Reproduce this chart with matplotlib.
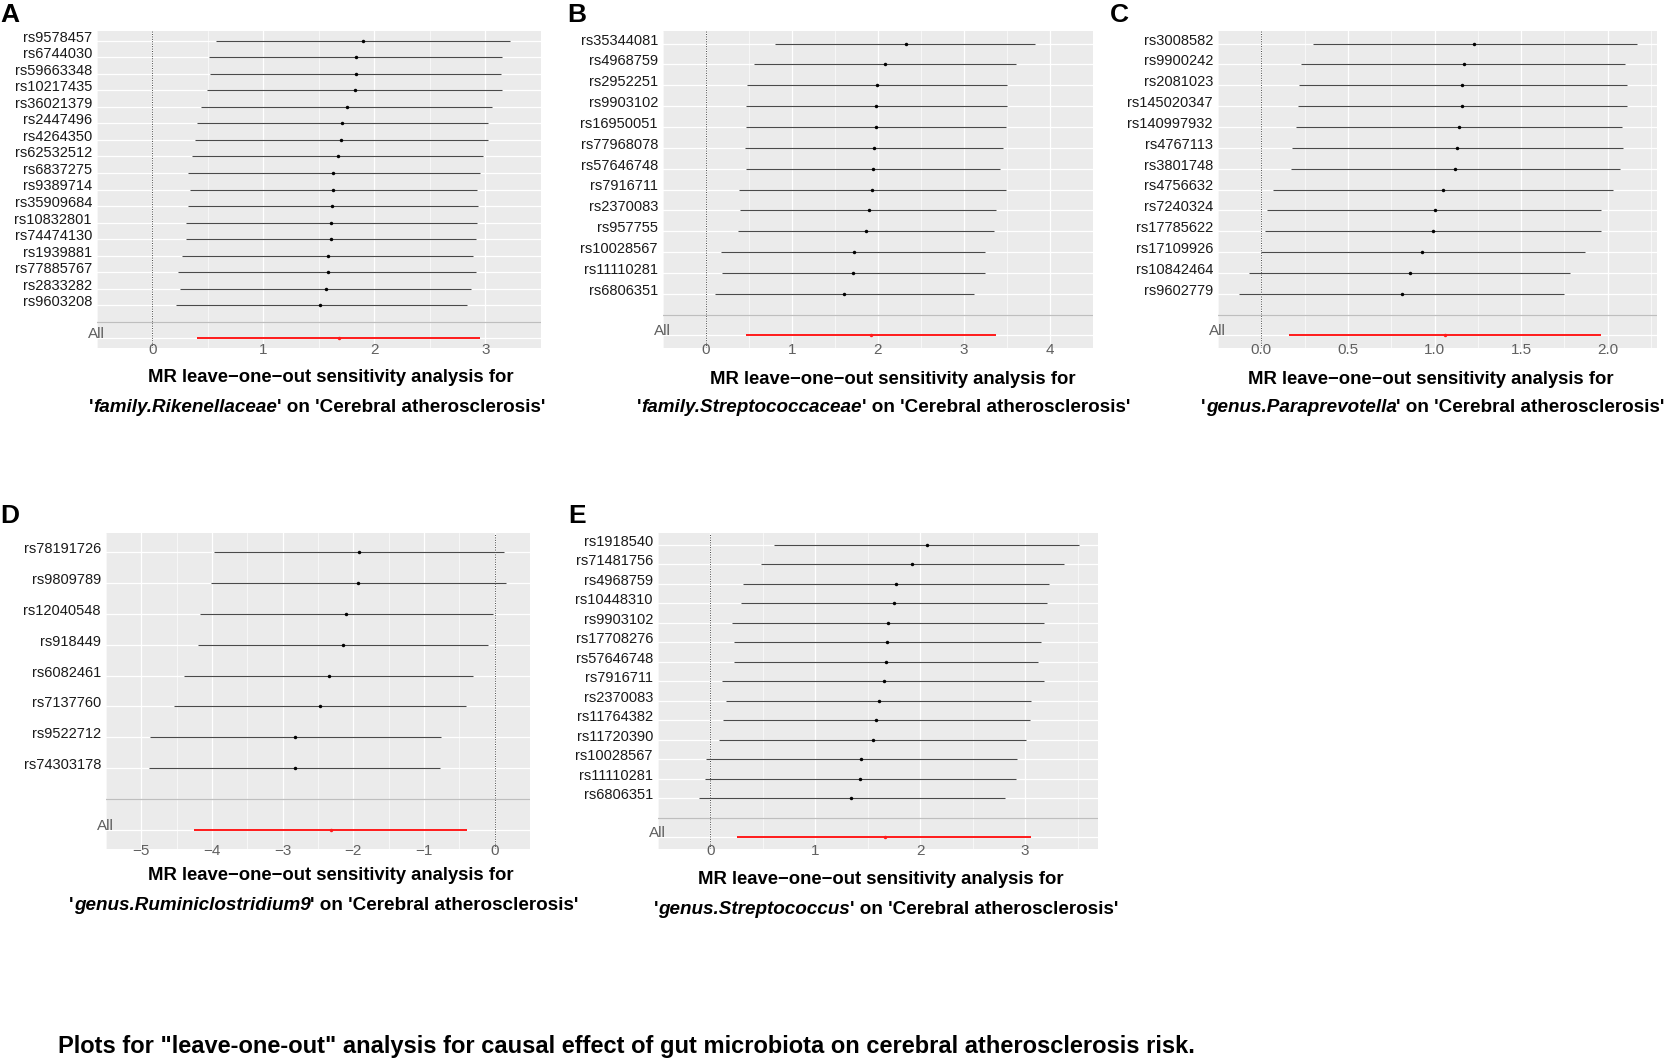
import matplotlib
matplotlib.use("Agg")
import matplotlib.pyplot as plt
from matplotlib import transforms as mtrans

# ---- data ----
a_snps = ["rs9578457", "rs6744030", "rs59663348", "rs10217435", "rs36021379", "rs2447496",
          "rs4264350", "rs62532512", "rs6837275", "rs9389714", "rs35909684", "rs10832801",
          "rs74474130", "rs1939881", "rs77885767", "rs2833282", "rs9603208"]
a_b = [1.90, 1.83, 1.83, 1.82, 1.75, 1.71, 1.70, 1.67, 1.63, 1.63, 1.62, 1.61, 1.61, 1.58, 1.58, 1.56, 1.51]
a_lo = [0.57, 0.51, 0.52, 0.49, 0.44, 0.40, 0.38, 0.36, 0.32, 0.34, 0.32, 0.30, 0.30, 0.27, 0.23, 0.25, 0.21]
a_hi = [3.22, 3.15, 3.14, 3.15, 3.06, 3.02, 3.02, 2.98, 2.95, 2.92, 2.93, 2.92, 2.91, 2.89, 2.91, 2.87, 2.83]
a_all = (0.40, 1.68, 2.95)

b_snps = ["rs35344081", "rs4968759", "rs2952251", "rs9903102", "rs16950051", "rs77968078",
          "rs57646748", "rs7916711", "rs2370083", "rs957755", "rs10028567", "rs11110281", "rs6806351"]
b_b = [2.32, 2.08, 1.99, 1.98, 1.98, 1.95, 1.94, 1.93, 1.89, 1.86, 1.72, 1.71, 1.61]
b_lo = [0.80, 0.56, 0.48, 0.46, 0.46, 0.45, 0.46, 0.38, 0.40, 0.37, 0.18, 0.19, 0.11]
b_hi = [3.83, 3.60, 3.50, 3.50, 3.49, 3.45, 3.42, 3.49, 3.37, 3.35, 3.25, 3.24, 3.12]
b_all = (0.46, 1.92, 3.37)

c_snps = ["rs3008582", "rs9900242", "rs2081023", "rs145020347", "rs140997932", "rs4767113",
          "rs3801748", "rs4756632", "rs7240324", "rs17785622", "rs17109926", "rs10842464", "rs9602779"]
c_b = [1.23, 1.17, 1.16, 1.16, 1.14, 1.13, 1.12, 1.05, 1.00, 0.99, 0.93, 0.86, 0.81]
c_lo = [0.30, 0.23, 0.22, 0.21, 0.20, 0.18, 0.17, 0.07, 0.03, 0.02, 0.00, -0.07, -0.13]
c_hi = [2.17, 2.10, 2.11, 2.11, 2.08, 2.09, 2.07, 2.03, 1.96, 1.96, 1.87, 1.78, 1.75]
c_all = (0.16, 1.06, 1.96)

d_snps = ["rs78191726", "rs9809789", "rs12040548", "rs918449", "rs6082461", "rs7137760",
          "rs9522712", "rs74303178"]
d_b = [-1.92, -1.93, -2.10, -2.15, -2.34, -2.47, -2.82, -2.83]
d_lo = [-3.97, -4.02, -4.17, -4.20, -4.39, -4.54, -4.88, -4.89]
d_hi = [0.135, 0.165, -0.03, -0.10, -0.30, -0.41, -0.76, -0.78]
d_all = (-4.25, -2.32, -0.39)

e_snps = ["rs1918540", "rs71481756", "rs4968759", "rs10448310", "rs9903102", "rs17708276",
          "rs57646748", "rs7916711", "rs2370083", "rs11764382", "rs11720390", "rs10028567",
          "rs11110281", "rs6806351"]
e_b = [2.06, 1.92, 1.77, 1.75, 1.69, 1.68, 1.67, 1.65, 1.61, 1.58, 1.55, 1.44, 1.43, 1.34]
e_lo = [0.61, 0.48, 0.31, 0.29, 0.21, 0.22, 0.22, 0.11, 0.15, 0.12, 0.08, -0.04, -0.05, -0.11]
e_hi = [3.51, 3.37, 3.23, 3.21, 3.18, 3.15, 3.12, 3.18, 3.06, 3.05, 3.01, 2.92, 2.91, 2.81]
e_all = (0.25, 1.66, 3.06)

exposures = ["family.Rikenellaceae", "family.Streptococcaceae", "genus.Paraprevotella",
             "genus.Ruminiclostridium9", "genus.Streptococcus"]
outcome = "Cerebral atherosclerosis"
caption = ('Plots for "leave-one-out" analysis for causal effect of gut microbiota '
           'on cerebral atherosclerosis risk.')

plt.rcParams['font.family'] = ['Liberation Sans', 'DejaVu Sans']

W, H = 1665, 1061
fig = plt.figure(figsize=(W / 100, H / 100), dpi=100)
fig.patch.set_facecolor('white')


def px_axes(left, top, right, bottom):
    return fig.add_axes([left / W, 1 - bottom / H, (right - left) / W, (bottom - top) / H])


def draw_panel(box, xlim, ticks, labels, snps, b, lo, hi, allv):
    ax = px_axes(*box)
    n = len(snps)
    ys = [n + 2 - i for i in range(n)]
    ax.set_facecolor('#EBEBEB')
    for s in ax.spines.values():
        s.set_visible(False)
    ax.set_xlim(xlim)
    ax.set_ylim(0.4, n + 2.6)
    ax.set_xticks(ticks)
    ax.set_xticklabels(labels)
    step = ticks[1] - ticks[0]
    minor = [t + step / 2 for t in [ticks[0] - step] + list(ticks)]
    ax.set_xticks(minor, minor=True)
    ax.set_yticks(range(1, n + 3))
    ax.set_yticklabels([])
    ax.grid(which='major', color='white', lw=0.9)
    ax.grid(which='minor', axis='x', color='white', lw=0.45)
    ax.set_axisbelow(True)
    ax.tick_params(axis='both', which='both', length=0)
    ax.tick_params(axis='x', pad=-3.5, labelsize=11, labelcolor='#606060')

    ax.axvline(0, color='#444444', ls=(0, (1, 1.5)), lw=0.7)
    ax.hlines(ys, lo, hi, color='#4a4a4a', lw=0.8)
    ax.plot(b, ys, 'o', color='black', ms=2.5, mec='none')
    ax.axhline(2, color='#BEBEBE', lw=0.9)
    ax.hlines(1, allv[0], allv[2], color='#FF1A1A', lw=1.4)
    ax.plot([allv[1]], [1], 'o', color='#FF1A1A', ms=2.5, mec='none')

    lab_tr = mtrans.blended_transform_factory(ax.transAxes, ax.transData)
    snp_tr = mtrans.offset_copy(lab_tr, fig=fig, x=-5, y=3, units='dots')
    for name, y in zip(snps, ys):
        ax.text(0, y, name, transform=snp_tr, ha='right', va='center',
                fontsize=10.5, color='#1a1a1a')
    all_tr = mtrans.offset_copy(lab_tr, fig=fig, x=8, y=4, units='dots')
    ax.text(0, 1, 'All', transform=all_tr, ha='right', va='center',
            fontsize=11, color='#606060')
    return ax


draw_panel((97, 31, 541, 348), (-0.167, 3.375), [0, 1, 2, 3], ['0', '1', '2', '3'],
           a_snps, a_b, a_lo, a_hi, a_all)
draw_panel((663, 31, 1093, 348), (-0.19, 4.02), [0, 1, 2, 3, 4], ['0', '1', '2', '3', '4'],
           b_snps, b_b, b_lo, b_hi, b_all)
draw_panel((1218, 31, 1657, 348), (-0.244, 2.284), [0, 0.5, 1.0, 1.5, 2.0],
           ['0.0', '0.5', '1.0', '1.5', '2.0'], c_snps, c_b, c_lo, c_hi, c_all)
draw_panel((106, 533, 530, 849), (-5.148, 0.40), [-5, -4, -3, -2, -1, 0],
           ['\u22125', '\u22124', '\u22123', '\u22122', '\u22121', '0'],
           d_snps, d_b, d_lo, d_hi, d_all)
draw_panel((658, 533, 1098, 849), (-0.296, 3.695), [0, 1, 2, 3], ['0', '1', '2', '3'],
           e_snps, e_b, e_lo, e_hi, e_all)

renderer = fig.canvas.get_renderer()


def rich_line(cx, cy, parts, size):
    objs = []
    for s, style in parts:
        t = fig.text(0, 1 - cy / H, s, fontsize=size, fontweight='bold',
                     fontstyle=style, ha='left', va='center', color='black')
        objs.append(t)
    widths = [t.get_window_extent(renderer).width for t in objs]
    x = cx - sum(widths) / 2
    for t, w in zip(objs, widths):
        t.set_x(x / W)
        x += w


# axis titles (x label of each panel)
title_pos = [(331, 377, 317, 407), (893, 380, 884, 407), (1431, 380, 1433, 407),
             (331, 876, 324, 905), (881, 879, 886, 909)]
line1 = "MR leave\u2212one\u2212out sensitivity analysis for"
for (x1, y1, x2, y2), expo in zip(title_pos, exposures):
    rich_line(x1, y1, [(line1, 'normal')], 13.3)
    rich_line(x2, y2, [("'", 'normal'), (expo, 'italic'),
                       ("' on '" + outcome + "'", 'normal')], 13.6)

# panel letters
for letter, x, y in [('A', 0, 14.5), ('B', 567, 14.5), ('C', 1110, 14.5),
                     ('D', 0, 516), ('E', 568, 516)]:
    fig.text(x / W, 1 - y / H, letter, fontsize=19, fontweight='bold',
             ha='left', va='center')

fig.text(58 / W, 1 - 1046 / H, caption, fontsize=17, fontweight='bold',
         ha='left', va='center')

fig.savefig('out.png', dpi=100)
